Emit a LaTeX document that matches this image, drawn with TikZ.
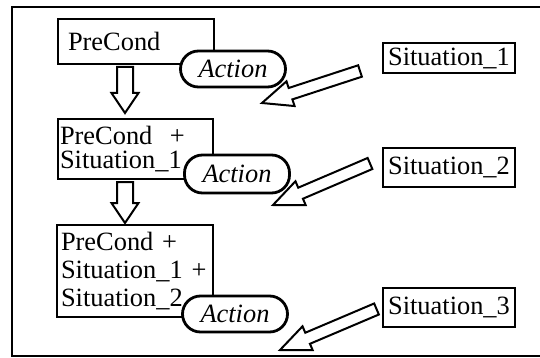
\documentclass[tikz,border=0pt]{standalone}
\usepackage{fontspec}
\setmainfont{Liberation Serif}
\usetikzlibrary{positioning, calc}

% hollow block arrow: from, to, half shaft, half head, head length
\newcommand{\fatarrow}[5]{%
  \path ($(#2)!#5!(#1)$) coordinate (hb);
  \draw[fat] ($(#1)!#3!90:(#2)$) -- ($(hb)!#3!90:(#2)$) -- ($(hb)!#4!90:(#2)$) -- (#2)
    -- ($(hb)!#4!-90:(#2)$) -- ($(hb)!#3!-90:(#2)$) -- ($(#1)!#3!-90:(#2)$) -- cycle;}

\begin{document}
\begin{tikzpicture}[x=0.5pt,y=-0.5pt,
          box/.style={draw,line width=1pt,anchor=north west,align=left,font=\fontsize{13.2}{14}\selectfont},
          act/.style={draw,fill=white,line width=1.4pt,rounded corners=9pt,minimum width=52.5pt,
            minimum height=18pt,inner sep=0pt,font=\fontsize{13.2}{14}\selectfont\itshape},
          sit/.style={draw,line width=1pt,minimum width=66pt,inner sep=0pt,font=\fontsize{13.2}{14}\selectfont},
          fat/.style={draw,line width=1pt,fill=white,line join=miter}
        ]
        \useasboundingbox (0,0) rectangle (540,358);
        \draw[line width=1pt] (540,7) -- (12,7) -- (12,356) -- (540,356);
        % state boxes
        \node[box,minimum width=78pt,minimum height=22.5pt,text width=68pt,inner xsep=5pt] (b1) at (57,18) {PreCond};
        \node[box,minimum width=77.5pt,minimum height=30pt,text width=75.5pt,inner xsep=1pt,
          font=\fontsize{13.2}{12}\selectfont] (b2) at (57,118) {PreCond~~+\\Situation\_1};
        \node[box,minimum width=78pt,minimum height=46pt,text width=74pt,inner xsep=2pt] (b3) at (56,224)
          {PreCond +\\Situation\_1 +\\Situation\_2};
        \node[act] (a1) at (233,69) {Action};
        \node[act,minimum height=19pt] (a2) at (237,174) {Action};
        \node[act] (a3) at (235,314) {Action};
        % situations
        \node[sit,minimum height=15pt] (s1) at (449,58) {Situation\_1};
        \node[sit,minimum height=19.5pt] (s2) at (449,167.5) {Situation\_2};
        \node[sit,minimum height=19.5pt] (s3) at (449,307.5) {Situation\_3};
        % arrows down
        \coordinate (d1) at ($(b1.south west)+(68,2)$);
        \coordinate (e1) at ($(b2.north west)+(68,-5)$);
        \coordinate (d2) at ($(b2.south west)+(68,2)$);
        \coordinate (e2) at ($(b3.north west)+(69,-1)$);
        \foreach \i in {1,2}{\fatarrow{d\i}{e\i}{4pt}{6.75pt}{10pt}}
        % arrows in
        \coordinate (t1) at ($(s1.west)+(-22,13)$);
        \coordinate (t2) at ($(s2.west)+(-12,-4)$);
        \coordinate (t3) at ($(s3.west)+(-5.5,1.5)$);
        \coordinate (h1) at (262,103);
        \coordinate (h2) at (273,205);
        \coordinate (h3) at (280,350);
        \foreach \i in {1,2,3}{\fatarrow{t\i}{h\i}{3pt}{6.5pt}{15pt}}
      \end{tikzpicture}
\end{document}
